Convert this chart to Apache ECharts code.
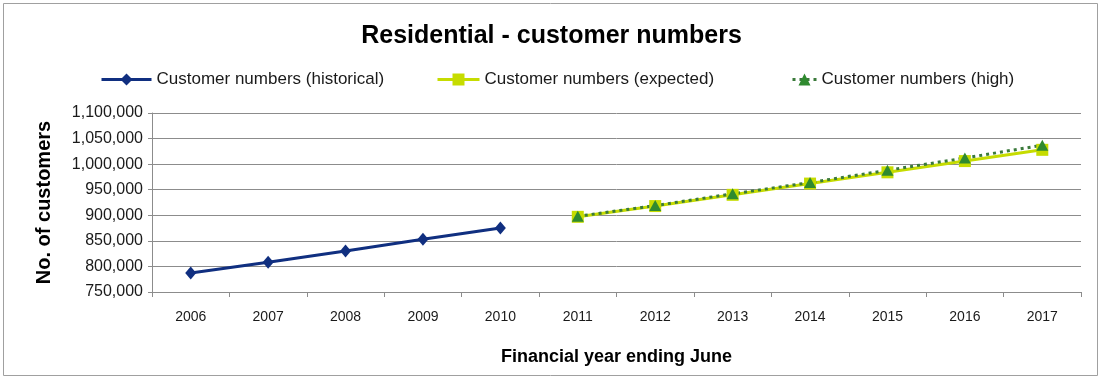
<!DOCTYPE html>
<html>
<head>
<meta charset="utf-8">
<script src="https://cdn.jsdelivr.net/npm/echarts@6/dist/echarts.min.js"></script>
<style>
  html, body { margin: 0; padding: 0; background: #fff; }
  #chart { width: 1103px; height: 378px; }
</style>
</head>
<body>
<div id="chart"></div>
<script>
// Financial years (ending June)
const years = ['2006','2007','2008','2009','2010','2011','2012','2013','2014','2015','2016','2017'];

// Residential customer numbers
const historical = [787000, 808000, 830000, 853000, 875000, null, null, null, null, null, null, null];
const expected   = [null, null, null, null, null, 897000, 918000, 940000, 962000, 984000, 1006000, 1028000];
const high       = [null, null, null, null, null, 898000, 919000, 942000, 964000, 988000, 1012000, 1037000];

const seriesNames = [
  'Customer numbers (historical)',
  'Customer numbers (expected)',
  'Customer numbers (high)'
];

const FONT = '"Liberation Sans", Arial, sans-serif';
const chart = echarts.init(document.getElementById('chart'), null, { renderer: 'canvas' });

const legendText = { fontFamily: FONT, fontSize: 17, color: '#1a1a1a' };
const legendLine = { width: 3 };

chart.setOption({
  backgroundColor: '#fff',
  animation: false,
  title: {
    text: 'Residential - customer numbers',
    left: 'center',
    top: 19,
    textStyle: { fontFamily: FONT, fontSize: 25, fontWeight: 'bold', color: '#000' }
  },
  legend: [
    { data: [seriesNames[0]], left: 95, top: 66, itemWidth: 50, itemHeight: 15, lineStyle: legendLine, textStyle: legendText },
    { data: [seriesNames[1]], left: 431, top: 66, itemWidth: 42, itemHeight: 15, lineStyle: legendLine, textStyle: legendText },
    { data: [seriesNames[2]], left: 786, top: 66, itemWidth: 24, itemHeight: 15, lineStyle: legendLine, textStyle: legendText }
  ],
  grid: { left: 152, right: 22, top: 113, bottom: 86, containLabel: false },
  xAxis: {
    type: 'category',
    data: years,
    boundaryGap: true,
    name: 'Financial year ending June',
    nameLocation: 'middle',
    nameGap: 56,
    nameTextStyle: { fontFamily: FONT, fontSize: 18, fontWeight: 'bold', color: '#000' },
    axisLine: { lineStyle: { color: '#8c8c8c', width: 1 } },
    axisTick: { show: true, alignWithLabel: false, length: 5, lineStyle: { color: '#8c8c8c' } },
    axisLabel: { fontFamily: FONT, fontSize: 14, color: '#1a1a1a', margin: 18 },
    splitLine: { show: false }
  },
  yAxis: {
    type: 'value',
    min: 750000,
    max: 1100000,
    interval: 50000,
    name: 'No. of customers',
    nameLocation: 'middle',
    nameGap: 98,
    nameRotate: 90,
    nameTextStyle: { fontFamily: FONT, fontSize: 20, fontWeight: 'bold', color: '#000' },
    axisLine: { show: true, lineStyle: { color: '#8c8c8c', width: 1 } },
    axisTick: { show: true, length: 4, lineStyle: { color: '#8c8c8c' } },
    axisLabel: {
      fontFamily: FONT, fontSize: 16, color: '#1a1a1a', margin: 9,
      formatter: v => v.toLocaleString('en-US')
    },
    splitLine: { show: true, lineStyle: { color: '#8c8c8c', width: 1 } }
  },
  graphic: [{
    type: 'rect',
    shape: { x: 3.5, y: 3.5, width: 1094, height: 372 },
    style: { fill: null, stroke: '#a0a0a0', lineWidth: 1 },
    silent: true,
    z: -1
  }],
  series: [
    {
      name: seriesNames[0],
      type: 'line',
      data: historical,
      symbol: 'diamond',
      symbolSize: [11, 13],
      showAllSymbol: true,
      lineStyle: { color: '#102f80', width: 3 },
      itemStyle: { color: '#102f80' }
    },
    {
      name: seriesNames[1],
      type: 'line',
      data: expected,
      symbol: 'rect',
      symbolSize: 12,
      showAllSymbol: true,
      lineStyle: { color: '#c6dc00', width: 3 },
      itemStyle: { color: '#c6dc00' }
    },
    {
      name: seriesNames[2],
      type: 'line',
      data: high,
      symbol: 'triangle',
      symbolSize: [12, 11],
      showAllSymbol: true,
      lineStyle: { color: '#3b7a3b', width: 3, type: [3, 4] },
      itemStyle: { color: '#2f8a2f' }
    }
  ]
});
</script>
</body>
</html>
